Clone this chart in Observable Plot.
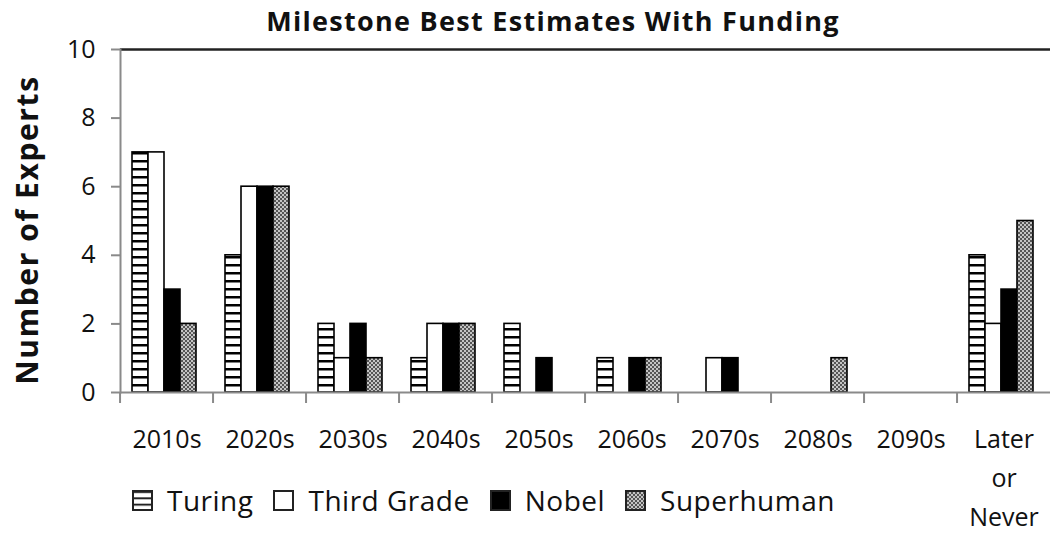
<!DOCTYPE html>
<html>
<head>
<meta charset="utf-8">
<script src="https://cdn.jsdelivr.net/npm/d3@7"></script>
<script src="https://cdn.jsdelivr.net/npm/@observablehq/plot@0.6"></script>
<style>
  html, body { margin: 0; padding: 0; background: white; }
  #wrap { position: relative; width: 1054px; height: 533px; overflow: hidden; font-family: "Open Sans", sans-serif; color: #111; }
  #title { position: absolute; top: 7px; left: 0; width: 1106px; text-align: center; font-weight: 700; font-size: 27px; line-height: 27px; letter-spacing: 1.3px; color: #111; }
  #chart { position: absolute; top: 0; left: 0; }
  #legend { position: absolute; top: 486px; left: 132px; display: flex; align-items: center; font-size: 28px; line-height: 28px; letter-spacing: 0.5px; color: #111; white-space: nowrap; }
  #legend .item { display: flex; align-items: center; margin-right: 20px; }
  #legend svg { margin-right: 14px; }
  svg g[aria-label="text"] text { letter-spacing: 1.6px; }
</style>
</head>
<body>
<svg width="0" height="0" style="position:absolute">
  <defs>
    <pattern id="pat-turing" patternUnits="userSpaceOnUse" width="8" height="8">
      <rect width="8" height="8" fill="white"></rect>
      <rect y="0" width="8" height="2.5" fill="black"></rect>
    </pattern>
    <pattern id="pat-super" patternUnits="userSpaceOnUse" width="4" height="4">
      <rect width="4" height="4" fill="#c4c4c4"></rect>
      <rect x="0" y="0" width="2" height="2" fill="#555"></rect>
      <rect x="2" y="2" width="2" height="2" fill="#555"></rect>
    </pattern>
    <pattern id="pat-turing-legend" patternUnits="objectBoundingBox" width="1" height="0.3333">
      <rect width="20" height="7" fill="white"></rect>
      <rect y="0" width="20" height="2" fill="#222"></rect>
    </pattern>
  </defs>
</svg>
<div id="wrap">
  <div id="chart"></div>
  <div id="title">Milestone Best Estimates With Funding</div>
  <div id="legend"></div>
</div>
<script>
const decades = ["2010s", "2020s", "2030s", "2040s", "2050s", "2060s", "2070s", "2080s", "2090s", "Later or Never"];
const series = ["Turing", "Third Grade", "Nobel", "Superhuman"];
const turing     = [7, 4, 2, 1, 2, 1, 0, 0, 0, 4];
const thirdGrade = [7, 6, 1, 2, 0, 0, 1, 0, 0, 2];
const nobel      = [3, 6, 2, 2, 1, 1, 1, 0, 0, 3];
const superhuman = [2, 6, 1, 2, 0, 1, 0, 1, 0, 5];
const yTicks = [0, 2, 4, 6, 8, 10];
const yLabel = "Number of Experts";
const fills = ["url(#pat-turing)", "white", "black", "url(#pat-super)"];

const values = [turing, thirdGrade, nobel, superhuman];
const data = [];
decades.forEach((d, i) => series.forEach((s, j) => data.push({decade: d, series: s, value: values[j][i]})));

const chart = Plot.plot({
  width: 1054,
  height: 533,
  marginTop: 49,
  marginBottom: 141,
  marginLeft: 115,
  marginRight: 0,
  style: {fontFamily: "'Open Sans', sans-serif", fontSize: "25px", color: "#111", background: "white", overflow: "visible"},
  fx: {domain: decades, padding: 0, label: null},
  x: {domain: series, paddingInner: 0, paddingOuter: 0.85, align: 0.43, axis: null},
  y: {domain: [0, 10], label: null},
  color: {domain: series, range: fills},
  marks: [
    Plot.ruleY(decades, {fx: d => d, y: () => 10, stroke: "#222", strokeWidth: 2.5}),
    Plot.barY(data.filter(d => d.value > 0), {fx: "decade", x: "series", y: "value", fill: "series", stroke: "black", strokeWidth: 1.6}),
    Plot.ruleY(decades, {fx: d => d, y: () => 0, stroke: "#8a8a8a", strokeWidth: 2}),
    Plot.frame({anchor: "left", facetAnchor: "left", stroke: "#8a8a8a", strokeWidth: 2}),
    Plot.axisY({ticks: yTicks, tickSize: 9, tickPadding: 16, stroke: "#8a8a8a", strokeWidth: 2, label: null}),
    Plot.text([yLabel], {text: d => d, frameAnchor: "left", facetAnchor: "left", rotate: -90, dx: -92, dy: 9, lineAnchor: "middle", textAnchor: "middle", fontWeight: "bold", fontSize: 30, fill: "#111"}),
    Plot.axisFx({anchor: "bottom", tickSize: 11, tickFormat: () => "", dx: -46.95, stroke: "#8a8a8a", strokeWidth: 2, label: null}),
    Plot.axisFx({anchor: "bottom", tickSize: 0, tickPadding: 28, label: null, lineHeight: 1.55, tickFormat: d => d.replace(/ /g, "\n")})
  ]
});
document.getElementById("chart").appendChild(chart);

// legend
const legendFills = ["url(#pat-turing-legend)", "white", "black", "url(#pat-super)"];
const legend = document.getElementById("legend");
series.forEach((s, j) => {
  const item = document.createElement("div");
  item.className = "item";
  item.innerHTML = `<svg width="21" height="21"><rect x="1" y="1" width="19" height="19" fill="${legendFills[j]}" stroke="#222" stroke-width="2"></rect></svg><span>${s}</span>`;
  legend.appendChild(item);
});
</script>
</body>
</html>
